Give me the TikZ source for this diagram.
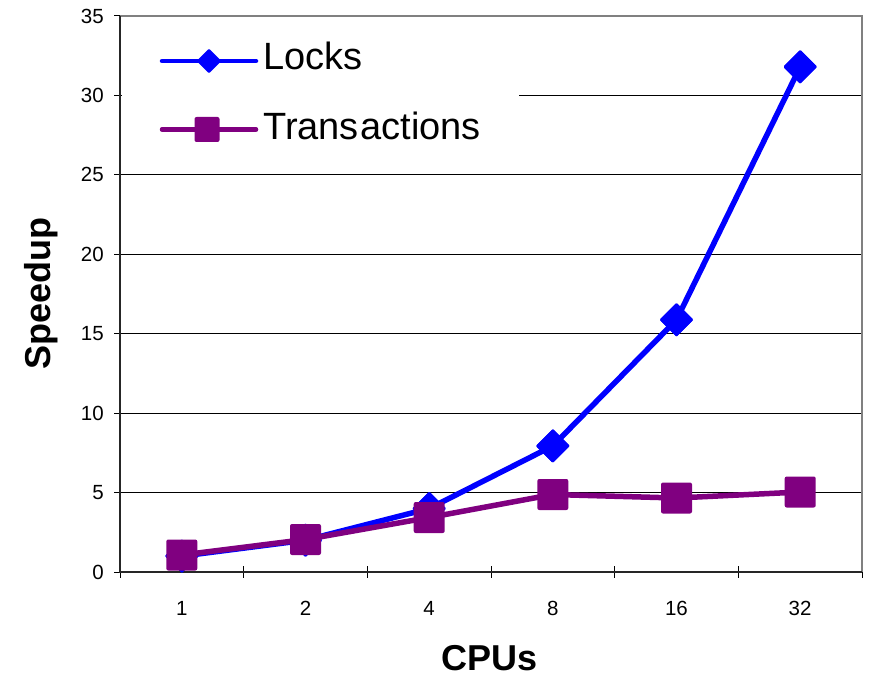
\documentclass[tikz,border=0pt]{standalone}
\usepackage{fontspec}
\setmainfont{Liberation Sans}
\usetikzlibrary{shapes.geometric}
\definecolor{lockblue}{RGB}{0,0,255}
\definecolor{txpurple}{RGB}{128,0,128}
\definecolor{frame}{RGB}{128,128,128}
\begin{document}
\begin{tikzpicture}[x=1pt,y=-1pt,
  gridline/.style={black, line width=1pt},
  axisline/.style={black!85, line width=2.2pt},
  frameline/.style={frame, line width=2.6pt},
  tickline/.style={black, line width=1pt},
  ticklabel/.style={font=\fontsize{20.5}{24}\selectfont, inner sep=0pt},
  axistitle/.style={font=\fontsize{36}{40}\selectfont\bfseries, inner sep=0pt},
  legendtext/.style={font=\fontsize{38}{42}\selectfont, inner sep=0pt, anchor=base west},
  lockline/.style={lockblue, line width=5.5pt, line join=round},
  txline/.style={txpurple, line width=5.5pt, line join=round},
  lockmark/.style={diamond, fill=lockblue, inner sep=0pt, minimum width=34pt, minimum height=34pt, rounded corners=1pt},
  txmark/.style={rectangle, fill=txpurple, inner sep=0pt, minimum size=31pt, rounded corners=2pt},
  legline/.style={line width=4.5pt, line cap=round},
]
\useasboundingbox (0,0) rectangle (869,679);

% plot area corners
\coordinate (TL) at (120,16);
\coordinate (TR) at (862,16);
\coordinate (BL) at (120,572);
\coordinate (BR) at (862,572);

% horizontal gridlines every 5 units (15.886 px per unit)
\foreach \v in {5,10,...,30} {
  \draw[gridline] (120,{572-\v*15.886}) -- (862,{572-\v*15.886});
}

% y-axis ticks and labels
\foreach \v in {0,5,...,35} {
  \draw[tickline] (114,{572-\v*15.886}) -- (126,{572-\v*15.886});
  \node[ticklabel, anchor=east] (ylab\v) at (104,{572-\v*15.886}) {\v};
}

% x-axis ticks at category boundaries
\foreach \k in {0,...,6} {
  \draw[tickline] ({120+\k*123.667},566) -- ({120+\k*123.667},578);
}
% x-axis category labels
\foreach \lab [count=\k from 0] in {1,2,4,8,16,32} {
  \node[ticklabel, anchor=base] (xlab\k) at ({181.8+\k*123.667},615.5) {\lab};
}

% plot frame and axes
\draw[frameline] (TL) -- (TR) -- (BR);
\draw[axisline] (TL) -- (BL) -- (BR);

% legend panel
\fill[white] (122,24) rectangle (519,162);

% Locks series
\node[lockmark] (L1) at (181.8,556.1) {};
\node[lockmark] (L2) at (305.5,540.2) {};
\node[lockmark] (L3) at (429.2,508.5) {};
\node[lockmark] (L4) at (552.8,445.9) {};
\node[lockmark] (L5) at (676.5,319.8) {};
\node[lockmark] (L6) at (800.2,66.8) {};
\draw[lockline] (L1.center) -- (L2.center) -- (L3.center) -- (L4.center) -- (L5.center) -- (L6.center);
\foreach \n in {L1,L2,L3,L4,L5,L6} {
  \node[lockmark] at (\n) {};
}

% Transactions series
\coordinate (T1) at (181.8,555.0);
\coordinate (T2) at (305.5,539.5);
\coordinate (T3) at (429.2,517.5);
\coordinate (T4) at (552.8,494.5);
\coordinate (T5) at (676.5,498.0);
\coordinate (T6) at (800.2,492.0);
\draw[txline] (T1) -- (T2) -- (T3) -- (T4) -- (T5) -- (T6);
\foreach \n in {T1,T2,T3,T4,T5,T6} {
  \node[txmark] (m\n) at (\n) {};
}

% legend entries
\coordinate (la) at (162,61);
\coordinate (lb) at (256,61);
\draw[legline, lockblue] (la) -- (lb);
\node[lockmark, minimum width=25pt, minimum height=25pt] (lmark) at (209,61) {};
\node[legendtext] (ltext) at (263,69.5) {Locks};

\coordinate (ta) at (162,129.5);
\coordinate (tb) at (256,129.5);
\draw[legline, txpurple] (ta) -- (tb);
\node[txmark, minimum size=25pt] (tmark) at (207,129.5) {};
\node[legendtext] (ttext) at (263,139.5) {Trans\kern1.5pt actions};

% axis titles
\node[axistitle, anchor=base] (xtitle) at (490,670.5) {CPUs};
\node[axistitle, anchor=base, rotate=90] (ytitle) at (50,293.5) {Speedup};
\end{tikzpicture}
\end{document}
